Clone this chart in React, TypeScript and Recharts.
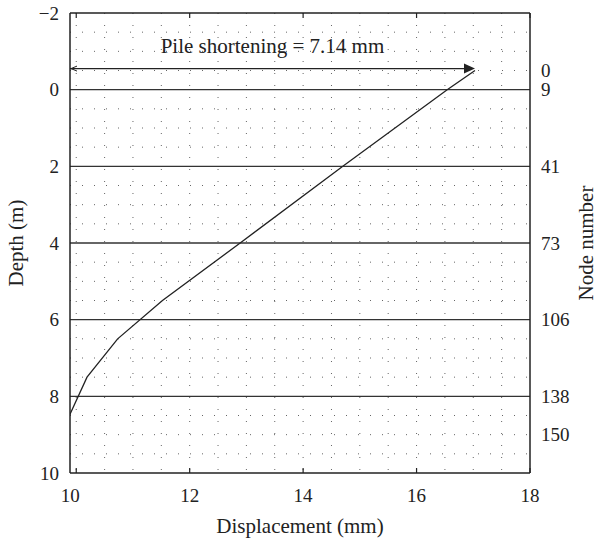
import { LineChart, Line, XAxis, YAxis, CartesianGrid, ReferenceLine } from 'recharts';

// pile displacement profile (depth in m, displacement in mm)
const depth = [-0.5, 0, 2, 4, 5.5, 6.5, 7.5, 8.5];
const displacement = [17.03, 16.54, 14.7, 12.89, 11.52, 10.73, 10.19, 9.88];

const dispTicks = [10, 12, 14, 16, 18];
const depthTicks = [-2, 0, 2, 4, 6, 8, 10];
const nodeDepths = [-0.5, 0, 2, 4, 6, 8, 9];
const nodeNumbers = [0, 9, 41, 73, 106, 138, 150];
const layerDepths = [0, 2, 4, 6, 8];
const gridDisp = [10, 10.5, 11, 11.5, 12, 12.5, 13, 13.5, 14, 14.5, 15, 15.5, 16, 16.5, 17, 17.5];
const gridDepth = [-1.5, -1, -0.5, 0.5, 1, 1.5, 2.5, 3, 3.5, 4.5, 5, 5.5, 6.5, 7, 7.5, 8.5, 9, 9.5];

const dispMin = 9.89;
const shortening = 7.14;
const arrowDepth = -0.55;

const data = depth.map((d, i) => ({ depth: d, disp: displacement[i] }));

const INK = '#222';
const FONT = '"Liberation Serif", "Times New Roman", serif';
const tickStyle = { fontSize: 19, fill: INK, fontFamily: FONT };

const fmtDepth = (v: number) => (v < 0 ? `\u2212${Math.abs(v)}` : `${v}`);
const fmtNode = (v: number) => `${nodeNumbers[nodeDepths.indexOf(v)]}`;

// bottom tick labels; the first one sits on the frame edge as in the original
function DispTick({ x, y, payload }: any) {
  const tx = payload.value === dispTicks[0] ? x - 6 : x;
  return (
    <text x={tx} y={y} dy="0.71em" textAnchor="middle" fontSize={19} fill={INK} fontFamily={FONT}>
      {payload.value}
    </text>
  );
}

function BottomTitle({ viewBox }: any) {
  return (
    <text x={viewBox.x + viewBox.width / 2} y={viewBox.y + viewBox.height - 8} textAnchor="middle" fontSize={21} fill={INK} fontFamily={FONT}>
      Displacement (mm)
    </text>
  );
}

function SideTitle({ viewBox, title, side }: any) {
  const cx = side === 'left' ? viewBox.x + 16 : viewBox.x + 56;
  const cy = viewBox.y + viewBox.height / 2;
  return (
    <text x={cx} y={cy} dy="0.35em" textAnchor="middle" fontSize={21} fill={INK} fontFamily={FONT} transform={`rotate(-90, ${cx}, ${cy})`}>
      {title}
    </text>
  );
}

function ShorteningArrow(props: any) {
  const { x1, y1, x2, y2 } = props;
  return (
    <g>
      <line x1={x1} y1={y1} x2={x2 - 9} y2={y2} stroke={INK} strokeWidth={1.2} />
      <polygon points={`${x2},${y2} ${x2 - 11},${y2 - 5} ${x2 - 11},${y2 + 5}`} fill={INK} />
      <path d={`M${x1 + 7},${y1 - 2.5} L${x1 + 1},${y1} L${x1 + 7},${y1 + 2.5}`} fill="none" stroke={INK} strokeWidth={1} />
      <text x={(x1 + x2) / 2} y={y1 - 16} textAnchor="middle" fontSize={21} fill={INK} fontFamily={FONT}>
        {`Pile shortening = ${shortening.toFixed(2)} mm`}
      </text>
    </g>
  );
}

export default function App() {
  return (
    <div style={{ position: 'absolute', left: 0, top: 0, fontFamily: FONT, background: '#fff' }}>
      <LineChart width={599} height={541} data={data} margin={{ top: 8, right: 0, bottom: 0, left: 0 }}>
        <CartesianGrid
          xAxisId="bottom"
          yAxisId="left"
          stroke="#666"
          strokeDasharray="1 11"
          verticalValues={gridDisp}
          horizontalValues={gridDepth}
        />
        <XAxis
          xAxisId="bottom"
          type="number"
          dataKey="disp"
          domain={[dispMin, 18]}
          ticks={dispTicks}
          interval={0}
          allowDataOverflow
          height={68}
          tickSize={-5}
          tickMargin={21}
          tick={<DispTick />}
          axisLine={{ stroke: INK, strokeWidth: 1.5 }}
          tickLine={{ stroke: INK, strokeWidth: 1.2 }}
          label={<BottomTitle />}
        />
        <XAxis
          xAxisId="top"
          orientation="top"
          type="number"
          dataKey="disp"
          domain={[dispMin, 18]}
          ticks={dispTicks}
          interval={0}
          allowDataOverflow
          height={5}
          tickSize={-5}
          tickFormatter={() => ''}
          axisLine={{ stroke: INK, strokeWidth: 1.5 }}
          tickLine={{ stroke: INK, strokeWidth: 1.2 }}
        />
        <YAxis
          yAxisId="left"
          type="number"
          domain={[-2, 10]}
          reversed
          ticks={depthTicks}
          interval={0}
          allowDataOverflow
          width={70}
          tickSize={0}
          tickMargin={11}
          tickLine={false}
          tick={tickStyle}
          tickFormatter={fmtDepth}
          axisLine={{ stroke: INK, strokeWidth: 1.5 }}
          label={<SideTitle title="Depth (m)" side="left" />}
        />
        <YAxis
          yAxisId="right"
          orientation="right"
          type="number"
          domain={[-2, 10]}
          reversed
          ticks={nodeDepths}
          interval={0}
          allowDataOverflow
          width={69}
          tickSize={0}
          tickMargin={11}
          tickLine={false}
          tick={tickStyle}
          tickFormatter={fmtNode}
          axisLine={{ stroke: INK, strokeWidth: 1.5 }}
          label={<SideTitle title="Node number" side="right" />}
        />
        {layerDepths.map((d) => (
          <ReferenceLine key={d} xAxisId="bottom" yAxisId="left" y={d} stroke="#333" strokeWidth={1.3} />
        ))}
        <ReferenceLine
          xAxisId="bottom"
          yAxisId="left"
          ifOverflow="visible"
          segment={[
            { x: dispMin, y: arrowDepth },
            { x: dispMin + shortening, y: arrowDepth },
          ]}
          shape={ShorteningArrow}
        />
        <Line
          xAxisId="bottom"
          yAxisId="left"
          dataKey="depth"
          stroke={INK}
          strokeWidth={1.3}
          dot={false}
          isAnimationActive={false}
        />
      </LineChart>
    </div>
  );
}
